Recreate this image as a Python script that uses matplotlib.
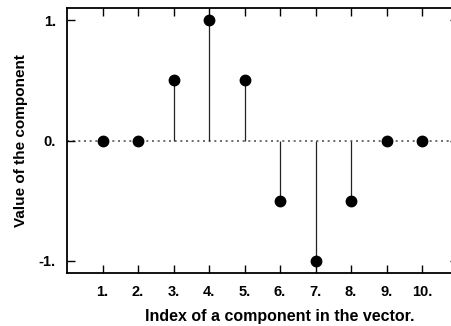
import matplotlib
matplotlib.use("Agg")
import matplotlib.pyplot as plt

# component index and value
idx = [1, 2, 3, 4, 5, 6, 7, 8, 9, 10]
vals = [0, 0, 0.5, 1, 0.5, -0.5, -1, -0.5, 0, 0]
xtick_labels = ["1.", "2.", "3.", "4.", "5.", "6.", "7.", "8.", "9.", "10."]
yticks = [-1, 0, 1]
ytick_labels = ["-1.", "0.", "1."]

plt.rcParams["font.family"] = ["Liberation Sans", "DejaVu Sans"]

fig = plt.figure(figsize=(4.52, 3.26), dpi=100)
W, H = 452, 326
ax = fig.add_axes([67 / W, 1 - 273 / H, (457.5 - 67) / W, (273 - 8) / H])

ax.axhline(0, color="#555555", ls=(0, (1.2, 2.2)), lw=1.2, zorder=1)
ax.vlines(idx, 0, vals, color="#222222", lw=0.9, zorder=2)
ax.plot(idx, vals, "o", color="black", ms=7.5, zorder=3)

ax.set_xlim(0, 11)
ax.set_ylim(-1.1, 1.1)
ax.set_xticks(idx)
ax.set_xticklabels(xtick_labels, fontsize=10.5, fontweight="bold")
ax.set_yticks(yticks)
ax.set_yticklabels(ytick_labels, fontsize=10.5, fontweight="bold")
ax.tick_params(direction="in", length=6, width=1, top=True, right=True)
ax.tick_params(axis="x", pad=9)
ax.tick_params(axis="y", pad=8)
for s in ax.spines.values():
    s.set_linewidth(1.3)

ax.set_xlabel("Index of a component in the vector.", fontsize=11.5, fontweight="bold")
ax.xaxis.set_label_coords(0.545, -0.135)
ax.set_ylabel("Value of the component", fontsize=11, fontweight="bold", labelpad=8)

fig.savefig("out.png", dpi=100)
